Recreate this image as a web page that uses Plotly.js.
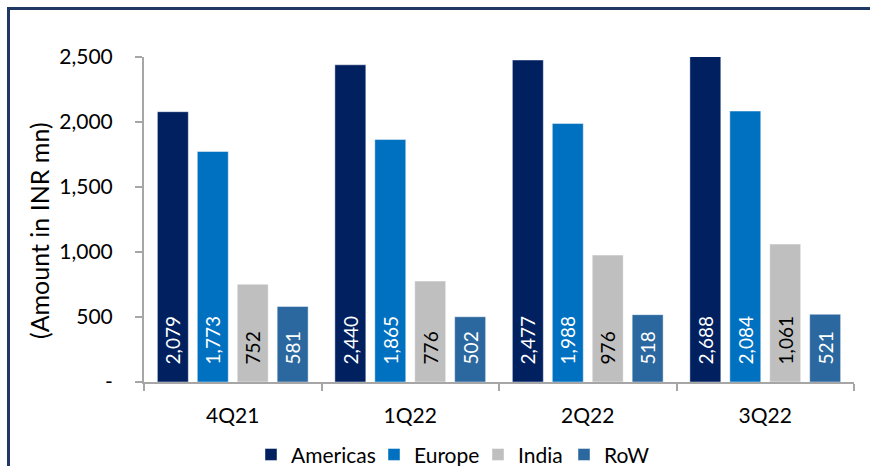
<!DOCTYPE html>
<html>
<head>
<meta charset="utf-8">
<script src="https://cdn.plot.ly/plotly-3.0.1.min.js"></script>
<style>
html,body{margin:0;padding:0;background:#fff;}
#wrap{position:relative;width:870px;height:466px;overflow:hidden;}
#frame{position:absolute;left:7px;top:7px;width:900px;height:500px;border-left:3px solid #1F3864;border-top:3px solid #1F3864;box-sizing:border-box;pointer-events:none;}
#chart{position:absolute;left:0;top:0;width:870px;height:466px;}
</style>
</head>
<body>
<div id="wrap"><div id="chart"></div><div id="frame"></div></div>
<script>
const categories = ["4Q21", "1Q22", "2Q22", "3Q22"];
const americas = [2079, 2440, 2477, 2688];
const europe = [1773, 1865, 1988, 2084];
const india = [752, 776, 976, 1061];
const row = [581, 502, 518, 521];
const yTickVals = [0, 500, 1000, 1500, 2000, 2500];
const yTickText = ["-", "500", "1,000", "1,500", "2,000", "2,500"];
const yTitle = "(Amount in INR mn)";

const FONT = "Lato, 'Open Sans', sans-serif";

function series(name, vals, color, txtColor, legendId) {
  return {
    type: "bar", name: name, x: categories, y: vals, legend: legendId,
    marker: {color: color, line: {color: "rgba(255,255,255,0.45)", width: 1}},
    texttemplate: "\u00a0\u00a0\u00a0%{y:,}",
    textposition: "inside", insidetextanchor: "start", textangle: -90,
    textfont: {family: FONT, size: 19, color: txtColor},
    hoverinfo: "skip", cliponaxis: true
  };
}

const data = [
  series("Americas", americas, "#002060", "#ffffff", "legend"),
  series("Europe", europe, "#0070C0", "#ffffff", "legend2"),
  series("India", india, "#BFBFBF", "#000000", "legend3"),
  series("RoW", row, "#2B68A0", "#ffffff", "legend4")
];

function leg(px) {
  return {orientation: "h", xref: "container", yref: "container", x: px / 870, xanchor: "left",
          y: 0.024, yanchor: "middle", font: {family: FONT, size: 21, color: "#000"},
          itemwidth: 30, bgcolor: "rgba(0,0,0,0)"};
}

const layout = {
  width: 870, height: 466,
  margin: {l: 144, r: 16, t: 57, b: 84},
  paper_bgcolor: "#ffffff", plot_bgcolor: "#ffffff",
  font: {family: FONT, size: 21, color: "#000000"},
  barmode: "group", bargap: 0.1, bargroupgap: 0.225,
  showlegend: true,
  legend: leg(251), legend2: leg(374), legend3: leg(478), legend4: leg(564),
  xaxis: {
    type: "category", showline: true, linecolor: "#A6A6A6", linewidth: 2,
    ticks: "outside", tickson: "boundaries", ticklen: 7, tickcolor: "#A6A6A6", tickwidth: 2,
    showgrid: false, zeroline: false, ticklabelstandoff: 14,
    tickfont: {family: FONT, size: 21, color: "#000"}
  },
  yaxis: {
    range: [0, 2500], showline: true, linecolor: "#A6A6A6", linewidth: 2,
    ticks: "outside", ticklen: 7, tickcolor: "#A6A6A6", tickwidth: 2,
    tickvals: yTickVals, ticktext: yTickText, showgrid: false, zeroline: false,
    ticklabelstandoff: 18,
    tickfont: {family: FONT, size: 21, color: "#000"}
  },
  annotations: [{
    text: yTitle, textangle: -90, showarrow: false,
    xref: "paper", yref: "paper", x: 0, y: 0.4646, xanchor: "center", yanchor: "middle",
    xshift: -105, font: {family: FONT, size: 25, color: "#000"}
  }]
};

Plotly.newPlot("chart", data, layout, {displayModeBar: false, staticPlot: true});
</script>
</body>
</html>
